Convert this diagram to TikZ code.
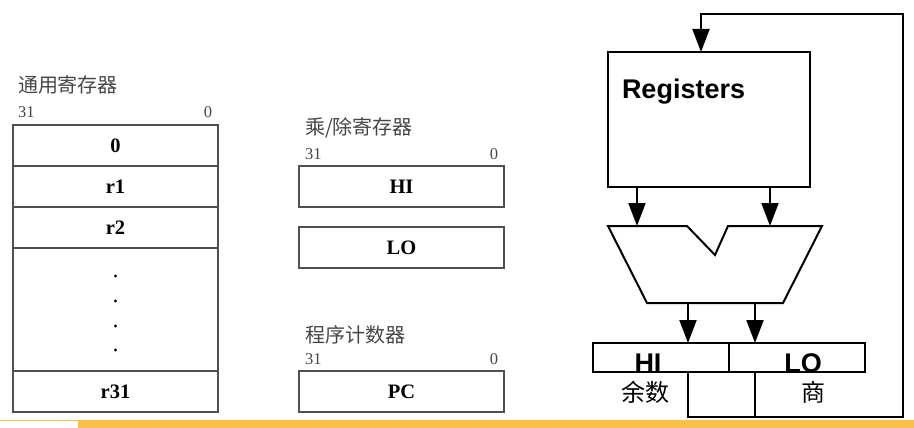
\documentclass[tikz,border=0pt]{standalone}
\usepackage{fontspec}
\setmainfont{Liberation Serif}
\newfontfamily\sansfont{Liberation Sans}
\newfontfamily\cjk{Noto Sans CJK SC}
\usetikzlibrary{positioning,arrows.meta}
\definecolor{regline}{RGB}{80,80,80}
\definecolor{regtext}{RGB}{70,70,70}
\definecolor{barorange}{RGB}{251,192,76}

\begin{document}
\begin{tikzpicture}[x=1pt,y=-1pt,>={Triangle[width=17pt,length=23pt]},
                    node distance=0pt, inner sep=0pt, outer sep=0pt]
  \tikzstyle{cell}=[draw=regline, line width=1.2pt, minimum width=205pt,
                    minimum height=41pt, font=\bfseries\fontsize{20.5}{20.5}\selectfont]
  \tikzstyle{bitnum}=[text=regtext, font=\fontsize{16.5}{16.5}\selectfont]
  \tikzstyle{title}=[text=regtext, anchor=west, font=\cjk\fontsize{20}{20}\selectfont]
  \tikzstyle{wire}=[line width=2pt]
  \tikzstyle{bigsans}=[font=\sansfont\bfseries\fontsize{27}{27}\selectfont]
  \tikzstyle{note}=[font=\cjk\fontsize{24}{24}\selectfont]

  \useasboundingbox (0,0) rectangle (914,428);

  % general purpose registers
  \node[title] (gprname) at (18,85) {通用寄存器};
  \node[cell] (r0)                     at (115.5,145.5) {0};
  \node[cell] (r1)    [below=of r0]    {r1};
  \node[cell] (r2)    [below=of r1]    {r2};
  \node[cell, minimum height=123pt] (rdots) [below=of r2] {};
  \node[cell] (r31)   [below=of rdots] {r31};
  \foreach \y in {-33.5,-8.5,16.5,40.5}
    \fill (rdots.center) ++(0,\y) circle[radius=1.6pt];
  \node[bitnum, above right=7pt and 5pt of r0.north west] (gprmsb) {31};
  \node[bitnum, above left=7pt and 6pt of r0.north east]  (gprlsb) {0};

  % multiply/divide registers
  \node[title] (mdname) at (305,128) {乘/除寄存器};
  \node[cell] (hi)                  at (401.5,186.5) {HI};
  \node[cell] (lo) [below=20pt of hi] {LO};
  \node[bitnum, above right=6pt and 6pt of hi.north west] (mdmsb) {31};
  \node[bitnum, above left=6pt and 6pt of hi.north east]  (mdlsb) {0};

  % program counter
  \node[title] (pcname) at (305,335) {程序计数器};
  \node[cell] (pc)                  at (401.5,391.5) {PC};
  \node[bitnum, above right=6pt and 6pt of pc.north west] (pcmsb) {31};
  \node[bitnum, above left=6pt and 6pt of pc.north east]  (pclsb) {0};

  % datapath
  \node[draw, wire, minimum width=202pt, minimum height=135pt] (regs) at (709,119.5) {};
  \node[bigsans, anchor=west] (regname) at (622,92) {Registers};
  \draw[wire] (608,226) -- (687,226) -- (715,255) -- (728,226) -- (822,226)
              -- (783,303) -- (647,303) -- cycle;
  \node[draw, wire, minimum width=136pt, minimum height=29pt] (rhi) at (661,357.5) {};
  \node[draw, wire, minimum width=136pt, minimum height=29pt] (rlo) [right=of rhi] {};
  \node[bigsans, anchor=base] (rhitxt) at (648,372) {HI};
  \node[bigsans, anchor=base] (rlotxt) at (803,372) {LO};
  \node[note] (rem) at (645,392) {余数};
  \node[note] (quo) at (813,392) {商};

  \coordinate (inA)  at (637,226);
  \coordinate (inB)  at (770,226);
  \coordinate (outA) at (688,303);
  \coordinate (outB) at (755,303);
  \coordinate (fbl)  at (688,417);
  \coordinate (fbr)  at (903,417);
  \coordinate (fbt)  at (903,14);
  \coordinate (fbin) at (701,14);

  \draw[wire,->] (regs.south -| inA) -- (inA);
  \draw[wire,->] (regs.south -| inB) -- (inB);
  \draw[wire,->] (outA) -- (outA |- rhi.north);
  \draw[wire,->] (outB) -- (outB |- rlo.north);
  \draw[wire,->] (rhi.south -| fbl) -- (fbl) -- (fbr) -- (fbt) -- (fbin) -- (fbin |- regs.north);
  \draw[wire] (rlo.south -| outB) -- (outB |- fbl);

  % bottom bar
  \fill[barorange] (78,420) rectangle (914,428);
  \draw[barorange, line width=1pt] (0,420.5) -- (78,420.5);
\end{tikzpicture}
\end{document}
